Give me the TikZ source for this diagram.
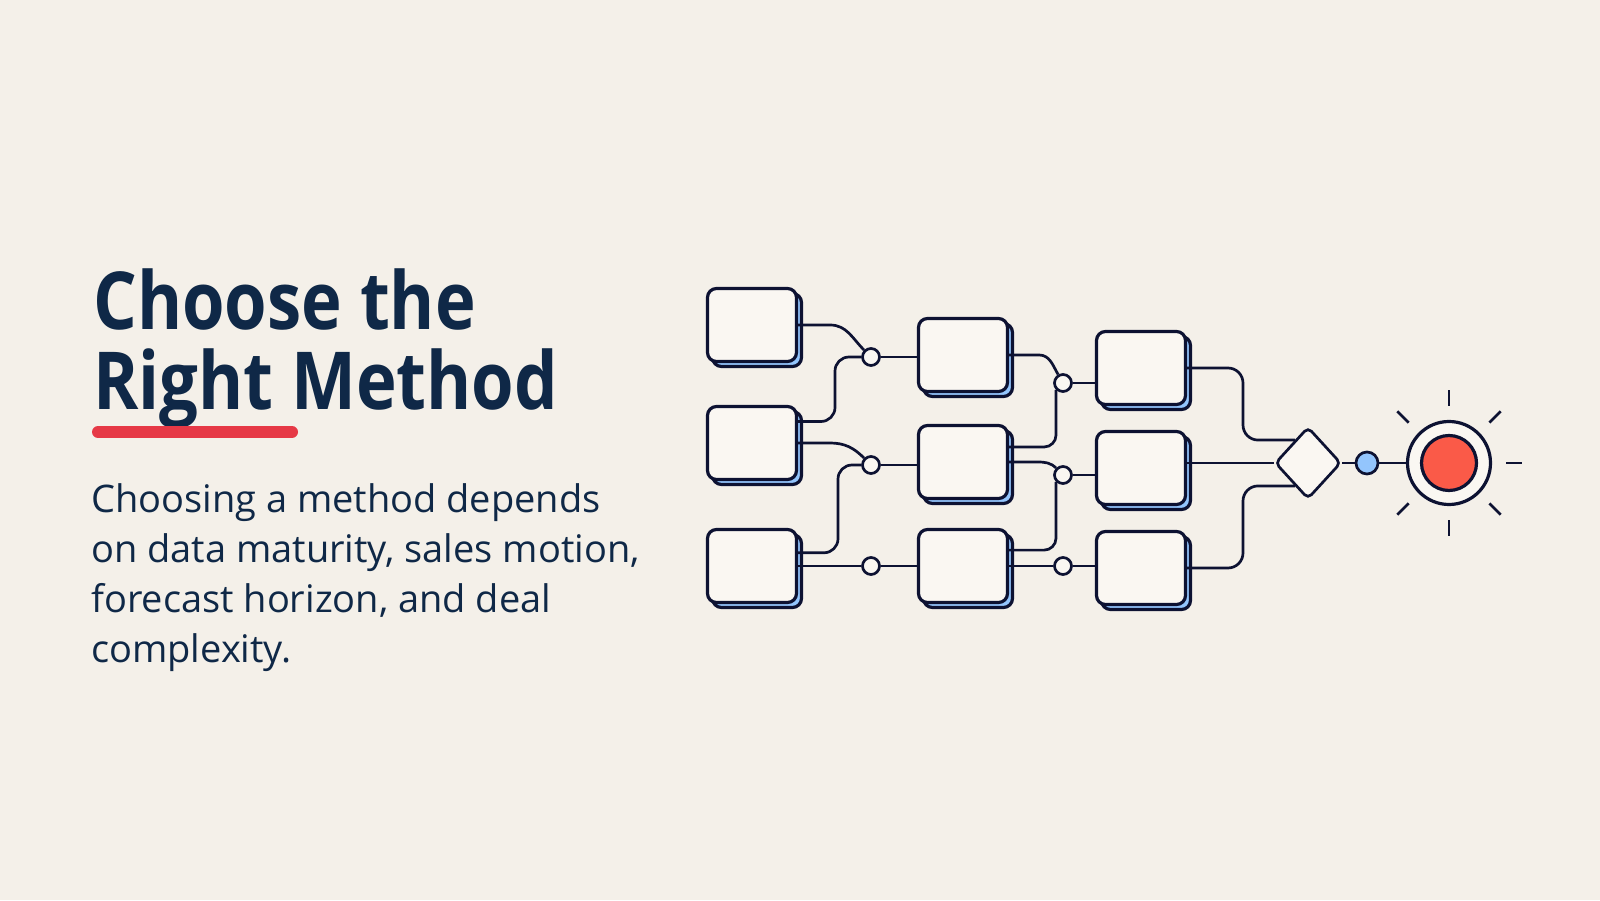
\documentclass[tikz,border=0pt]{standalone}
\usepackage{fontspec}
\setmainfont{Open Sans}
\newfontfamily\headfont{Open Sans}[FakeStretch=0.86]
\usetikzlibrary{shapes.geometric,shadows}

\definecolor{paper}{HTML}{F4F0E9}
\definecolor{cream}{HTML}{FAF7F2}
\definecolor{ink}{HTML}{0D1232}
\definecolor{navytext}{HTML}{0F2847}
\definecolor{skyblue}{HTML}{93C5FD}
\definecolor{coral}{HTML}{FA5A48}
\definecolor{rosered}{HTML}{E63946}

\tikzset{%
  every box/.style={
    rectangle,
    rounded corners=9pt,
    draw=ink,
    line width=3.2pt,
    fill=cream,
    minimum width=89pt,
    minimum height=73pt,
    copy shadow={shadow xshift=5pt, shadow yshift=-5pt, fill=skyblue, draw=ink, line width=3.2pt}
  },
  junction/.style={
    circle,
    draw=ink,
    line width=2.7pt,
    fill=cream,
    minimum size=17pt,
    inner sep=0pt
  },
  link/.style={
    draw=ink,
    line width=2.7pt
  },
  ray/.style={
    draw=ink,
    line width=2.7pt
  },
}

\begin{document}
\begin{tikzpicture}[x=1pt, y=1pt]

\fill[paper] (0,0) rectangle (1600,900);
\useasboundingbox (0,0) rectangle (1600,900);

\node [anchor=base west, inner sep=0pt, align=left, text=navytext,
  font=\headfont\bfseries\fontsize{80}{80}\selectfont] (title) at (93,490) {Choose the\\Right Method};
\draw [rosered, line width=12pt, line cap=round] (98,468) -- (292,468);
\node [anchor=base west, inner sep=0pt, align=left, text=navytext,
  font=\fontsize{38}{50}\selectfont] (blurb) at (91,237)
  {Choosing a method depends\\on data maturity, sales motion,\\forecast horizon, and deal\\complexity.};

\foreach \y [count=\i] in {575,457,334}
  \node [every box] (data-\i) at (752,\y) {};

\foreach \y [count=\i] in {545,438,334}
  \node [every box] (method-\i) at (963,\y) {};

\foreach \y [count=\i] in {532,432,332}
  \node [every box] (forecast-\i) at (1141,\y) {};

\foreach \y [count=\i] in {543,435,334}
  \node [junction] (mixA-\i) at (871,\y) {};

\foreach \y [count=\i] in {517,425,334}
  \node [junction] (mixB-\i) at (1063,\y) {};

\node [diamond, draw=ink, line width=2.7pt, fill=cream, rounded corners=5pt,
  minimum width=66pt, minimum height=72pt, inner sep=0pt] (choice) at (1308,437) {};
\node [junction, fill=skyblue, minimum size=22pt] (pick) at (1367,437) {};
\node [circle, draw=ink, line width=3.2pt, fill=cream, minimum size=83pt, inner sep=0pt] (target) at (1449,437) {};
\node [circle, draw=ink, line width=3.2pt, fill=coral, minimum size=55pt, inner sep=0pt] (bullseye) at (target) {};

\draw [link] (data-1.east) -- ++(32,0) to[out=0, in=135] (mixA-1.135);
\draw [link, rounded corners=14pt] (data-2.25) -| ([xshift=-36pt]mixA-1.center) -- (mixA-1);
\draw [link] (data-2.east) -- ++(32,0) to[out=0, in=135] (mixA-2.135);
\draw [link, rounded corners=14pt] (data-3.16) -| ([xshift=-33pt]mixA-2.center) -- (mixA-2);
\draw [link] (data-3) -- (mixA-3);

\foreach \i in {1,...,3}
  \draw [link] (mixA-\i) -- (mixA-\i -| method-\i.west);

\draw [link] (method-1.east) -- ++(30,0) to[out=0, in=120] (mixB-1.120);
\draw [link, rounded corners=12pt] (method-2.18) -| (mixB-1.-135);
\draw [link] (method-2.east) -- ++(28,0) to[out=0, in=135] (mixB-2.135);
\draw [link, rounded corners=12pt] (method-3.19) -| (mixB-2.-135);
\draw [link] (method-3) -- (mixB-3);

\foreach \i in {1,...,3}
  \draw [link] (mixB-\i) -- (mixB-\i -| forecast-\i.west);

\draw [link, rounded corners=15pt] (forecast-1.east) -| (1243,490) |- (choice.120);
\draw [link] (choice.west -| forecast-2.east) -- (choice.west);
\draw [link, rounded corners=15pt] (forecast-3.east) -| (1243,380) |- (choice.240);

\draw [link] (choice) -- (pick);
\draw [link] (pick) -- (target);

\foreach \a in {0,45,90,135,225,270,315}
  \draw [ray] (target.\a) ++(\a:14) -- ++(\a:16);

\end{tikzpicture}
\end{document}
